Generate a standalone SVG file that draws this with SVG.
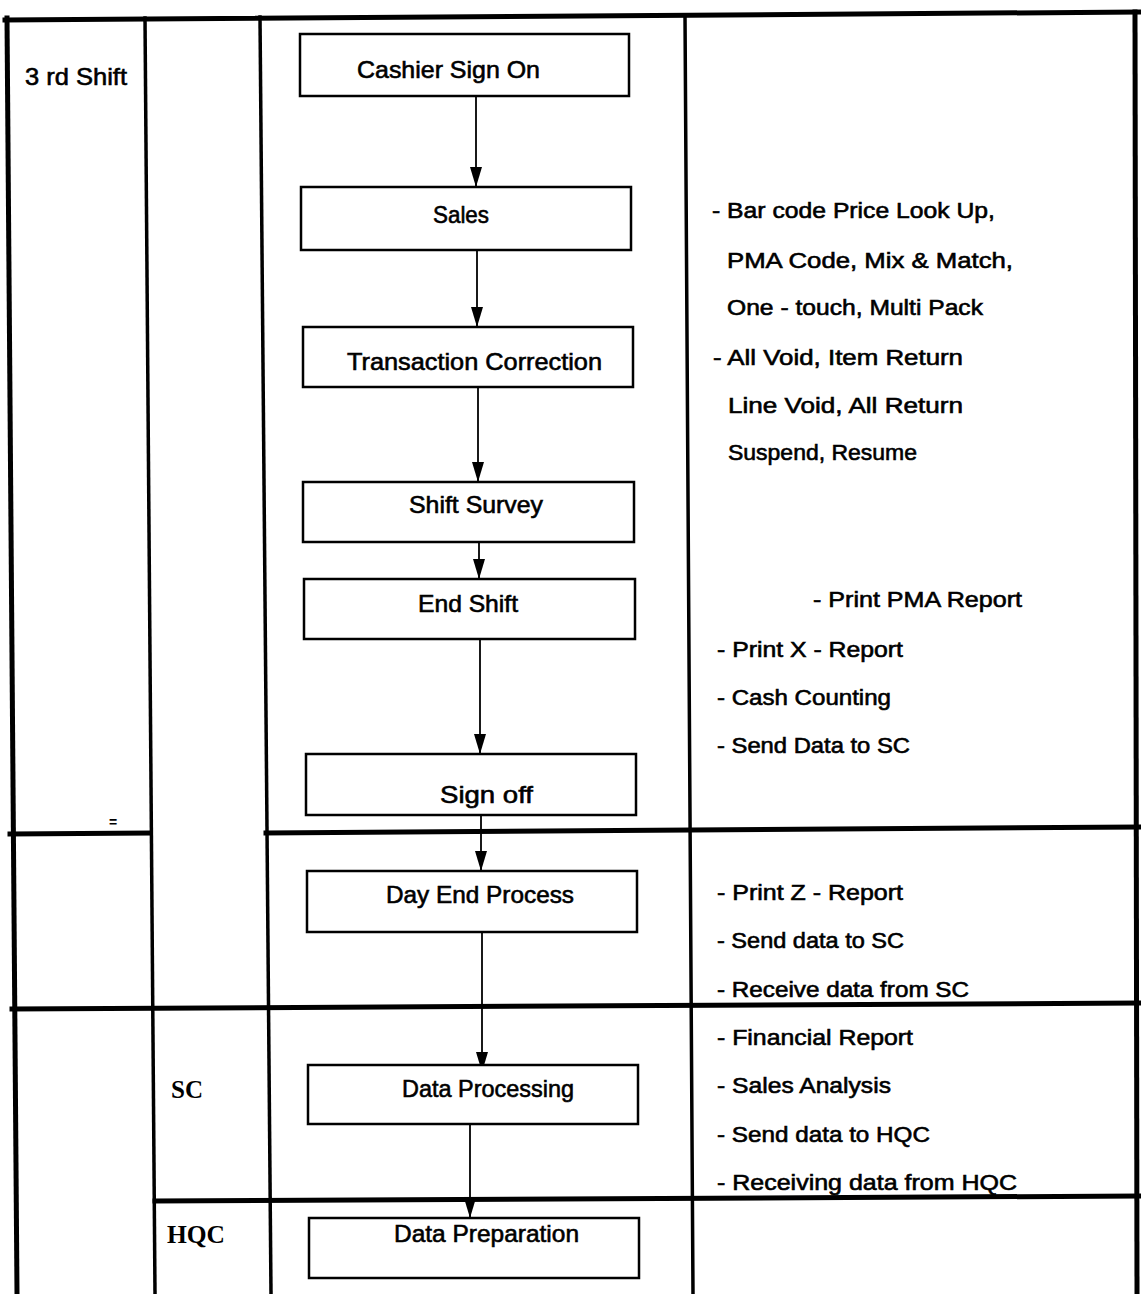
<svg xmlns="http://www.w3.org/2000/svg" width="1141" height="1294" viewBox="0 0 1141 1294">
<style>
.frame line{stroke:#000;stroke-linecap:square}
.thick{stroke-width:5}
.col{stroke-width:3.5}
.box rect{fill:#fff;stroke:#000;stroke-width:2.5}
.lbl{font-family:"Liberation Sans",Arial,sans-serif;font-size:24px;fill:#000;stroke:#000;stroke-width:0.6}
.note{font-family:"Liberation Sans",Arial,sans-serif;font-size:22px;fill:#000;stroke:#000;stroke-width:0.6}
.lane{font-family:"Liberation Serif","Times New Roman",serif;font-size:26px;font-weight:bold;fill:#000}
.conn line{stroke:#000;stroke-width:1.8}
</style>
<defs>
<marker id="ah" markerUnits="userSpaceOnUse" markerWidth="20" markerHeight="12" viewBox="0 0 20 12" refX="20" refY="6" orient="auto">
<path d="M0,0 L20,6 L0,12 Z" fill="#000"/>
</marker>
</defs>
<rect width="1141" height="1294" fill="#fff"/>
<g id="frame" class="frame">
<line class="thick" x1="5" y1="20" x2="1141" y2="12"/>
<line class="thick" x1="7" y1="18" x2="17" y2="1294"/>
<line class="col" x1="145" y1="18" x2="155" y2="1294"/>
<line class="col" x1="260" y1="17" x2="271" y2="1294"/>
<line class="col" x1="685" y1="15" x2="693" y2="1294"/>
<line class="thick" x1="1135" y1="12" x2="1137" y2="1294"/>
<line class="thick" x1="10" y1="834" x2="150" y2="833"/>
<line class="thick" x1="266" y1="833" x2="1141" y2="827"/>
<line class="thick" x1="12" y1="1009" x2="1141" y2="1003"/>
<line class="thick" x1="155" y1="1201" x2="1141" y2="1196"/>
</g>
<g id="lanes">
<text class="lbl" x="25" y="85" textLength="102" lengthAdjust="spacingAndGlyphs">3 rd Shift</text>
<text class="lane" x="171" y="1098" textLength="32" lengthAdjust="spacingAndGlyphs">SC</text>
<text class="lane" x="167" y="1243" textLength="58" lengthAdjust="spacingAndGlyphs">HQC</text>
<text x="109" y="827" font-family="Liberation Sans, sans-serif" font-size="14" font-weight="bold">=</text>
</g>
<g id="connectors" class="conn">
<line x1="476" y1="96" x2="476" y2="187" marker-end="url(#ah)"/>
<line x1="477" y1="250" x2="477" y2="327" marker-end="url(#ah)"/>
<line x1="478" y1="387" x2="478" y2="482" marker-end="url(#ah)"/>
<line x1="479" y1="542" x2="479" y2="579" marker-end="url(#ah)"/>
<line x1="480" y1="639" x2="480" y2="754" marker-end="url(#ah)"/>
<line x1="481" y1="815" x2="481" y2="871" marker-end="url(#ah)"/>
<line x1="482" y1="932" x2="482" y2="1072" marker-end="url(#ah)"/>
<line x1="470" y1="1124" x2="470" y2="1218" marker-end="url(#ah)"/>
</g>
<g id="n1" class="box"><rect x="300" y="34" width="329" height="62"/><text class="lbl" x="357" y="78" textLength="183" lengthAdjust="spacingAndGlyphs">Cashier  Sign On</text></g>
<g id="n2" class="box"><rect x="301" y="187" width="330" height="63"/><text class="lbl" x="433" y="223" textLength="56" lengthAdjust="spacingAndGlyphs">Sales</text></g>
<g id="n3" class="box"><rect x="303" y="327" width="330" height="60"/><text class="lbl" x="347" y="370" textLength="255" lengthAdjust="spacingAndGlyphs">Transaction  Correction</text></g>
<g id="n4" class="box"><rect x="303" y="482" width="331" height="60"/><text class="lbl" x="409" y="513" textLength="134" lengthAdjust="spacingAndGlyphs">Shift Survey</text></g>
<g id="n5" class="box"><rect x="304" y="579" width="331" height="60"/><text class="lbl" x="418" y="612" textLength="100" lengthAdjust="spacingAndGlyphs">End Shift</text></g>
<g id="n6" class="box"><rect x="306" y="754" width="330" height="61"/><text class="lbl" x="440" y="803" textLength="93" lengthAdjust="spacingAndGlyphs">Sign  off</text></g>
<g id="n7" class="box"><rect x="307" y="871" width="330" height="61"/><text class="lbl" x="386" y="903" textLength="188" lengthAdjust="spacingAndGlyphs">Day  End Process</text></g>
<g id="n8" class="box"><rect x="308" y="1065" width="330" height="59"/><text class="lbl" x="402" y="1097" textLength="172" lengthAdjust="spacingAndGlyphs">Data Processing</text></g>
<g id="n9" class="box"><rect x="309" y="1218" width="330" height="60"/><text class="lbl" x="394" y="1242" textLength="185" lengthAdjust="spacingAndGlyphs">Data  Preparation</text></g>
<g id="notes">
<text class="note" x="712" y="218" textLength="283" lengthAdjust="spacingAndGlyphs">- Bar code Price Look Up,</text>
<text class="note" x="727" y="268" textLength="286" lengthAdjust="spacingAndGlyphs">PMA Code, Mix &amp; Match,</text>
<text class="note" x="727" y="315" textLength="256" lengthAdjust="spacingAndGlyphs">One - touch, Multi Pack</text>
<text class="note" x="713" y="365" textLength="250" lengthAdjust="spacingAndGlyphs">- All Void, Item Return</text>
<text class="note" x="728" y="413" textLength="235" lengthAdjust="spacingAndGlyphs">Line Void, All Return</text>
<text class="note" x="728" y="460" textLength="189" lengthAdjust="spacingAndGlyphs">Suspend, Resume</text>
<text class="note" x="813" y="607" textLength="209" lengthAdjust="spacingAndGlyphs">- Print PMA Report</text>
<text class="note" x="717" y="657" textLength="186" lengthAdjust="spacingAndGlyphs">- Print X - Report</text>
<text class="note" x="717" y="705" textLength="174" lengthAdjust="spacingAndGlyphs">- Cash Counting</text>
<text class="note" x="717" y="753" textLength="193" lengthAdjust="spacingAndGlyphs">- Send Data to SC</text>
<text class="note" x="717" y="900" textLength="186" lengthAdjust="spacingAndGlyphs">- Print Z - Report</text>
<text class="note" x="717" y="948" textLength="187" lengthAdjust="spacingAndGlyphs">- Send data to SC</text>
<text class="note" x="717" y="997" textLength="252" lengthAdjust="spacingAndGlyphs">- Receive data from SC</text>
<text class="note" x="717" y="1045" textLength="196" lengthAdjust="spacingAndGlyphs">- Financial Report</text>
<text class="note" x="717" y="1093" textLength="174" lengthAdjust="spacingAndGlyphs">- Sales Analysis</text>
<text class="note" x="717" y="1142" textLength="213" lengthAdjust="spacingAndGlyphs">- Send data to HQC</text>
<text class="note" x="717" y="1190" textLength="300" lengthAdjust="spacingAndGlyphs">- Receiving data from HQC</text>
</g>
</svg>
